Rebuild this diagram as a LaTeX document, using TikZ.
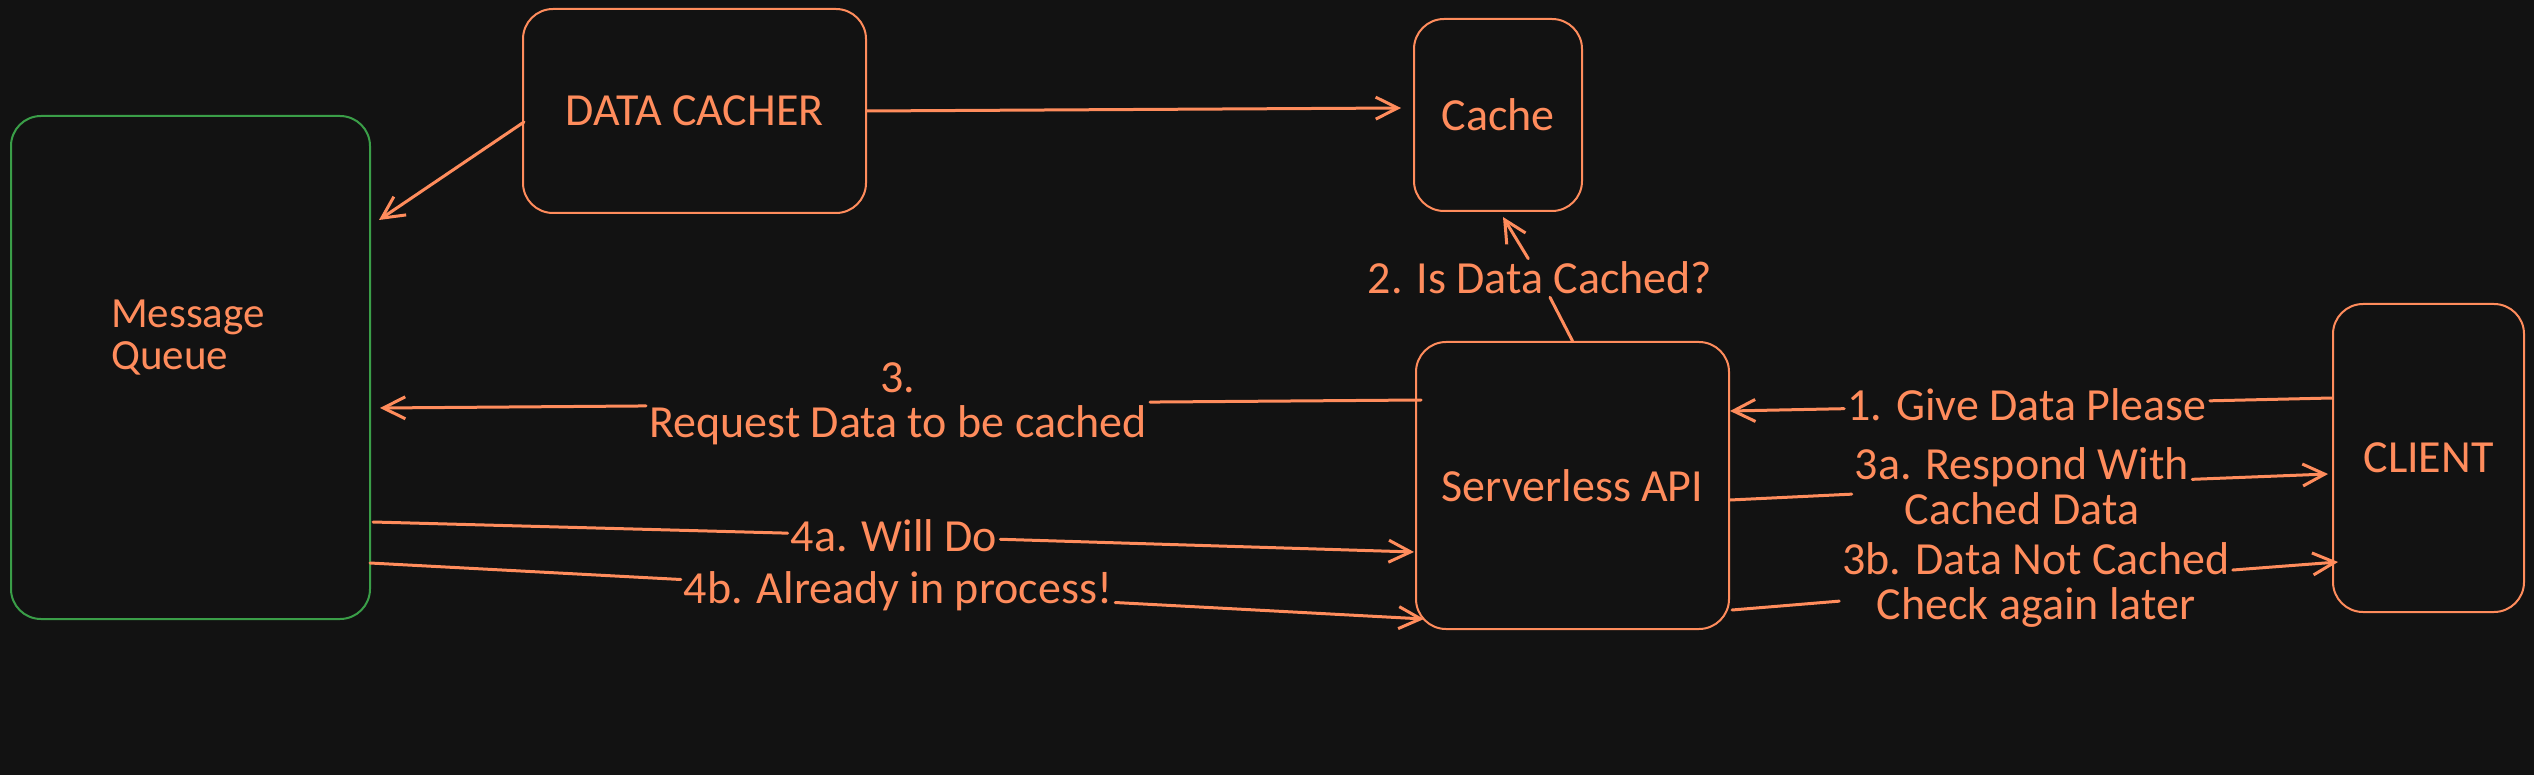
\documentclass[tikz,border=0pt]{standalone}
\usepackage{fontspec}
\setmainfont{Carlito}
\usetikzlibrary{arrows.meta}
\definecolor{bg}{HTML}{121212}
\definecolor{org}{HTML}{FF8C5C}
\definecolor{grn}{HTML}{3A9E48}
\begin{document}
\begin{tikzpicture}[x=1pt,y=-1pt,
  box/.style={draw=org,line width=2pt,rounded corners=30pt,inner sep=0pt,text=org,font=\fontsize{46}{45}\selectfont},
  lbl/.style={text=org,font=\fontsize{46}{45}\selectfont,inner sep=3pt,align=center},
  conn/.style={draw=org,line width=3pt,line cap=round},
  arr/.style={conn,-{Straight Barb[length=22pt,width=22pt,line width=3pt]}}]
\fill[bg] (0,0) rectangle (2534,775);
\useasboundingbox (0,0) rectangle (2534,775);
% boxes
\node[box,draw=grn,minimum width=359pt,minimum height=503pt] (mq) at (190.5,367.5) {};
\node[lbl,align=left,font=\fontsize{43}{42}\selectfont] (mqt) at (188,338) {Message\\Queue};
\node[box,minimum width=343pt,minimum height=204pt] (dc) at (694.5,111) {DATA CACHER};
\node[box,minimum width=168pt,minimum height=192pt] (cache) at (1498,115) {Cache};
\node[box,minimum width=313pt,minimum height=287pt] (api) at (1572.5,485.5) {Serverless API};
\node[box,minimum width=191pt,minimum height=308pt] (client) at (2428.5,458) {CLIENT};
% labels
\node[lbl] (l2) at (1540,278) {2. Is Data Cached?};
\node[lbl] (l3) at (898,404) {3.\\Request Data to be cached};
\node[lbl] (l4a) at (894,536) {4a. Will Do};
\node[lbl] (l4b) at (898,591) {4b. Already in process!};
\node[lbl] (l1) at (2027,405) {1. Give Data Please};
\node[lbl] (l3a) at (2022,486) {3a. Respond With\\Cached Data};
\node[lbl] (l3b) at (2036,585) {3b. Data Not Cached\\Check again later};
% connectors
\draw[arr] ([shift={(2,11)}]dc.west) -- ([shift={(8,-147.5)}]mq.east);
\draw[arr] (dc.east) -- ([shift={(-12,-7)}]cache.west);
\draw[conn] (api.north) -- (l2);
\draw[arr] (l2) -- ([shift={(5,5)}]cache.south);
\draw[conn] ([shift={(6,-85.5)}]api.west) -- (l3);
\draw[arr] (l3) -- ([shift={(9,40.5)}]mq.east);
\draw[conn] ([shift={(2,154.5)}]mq.east) -- (l4a);
\draw[arr] (l4a) -- ([shift={(-1,66.5)}]api.west);
\draw[conn] ([shift={(-1,195.5)}]mq.east) -- (l4b);
\draw[arr] (l4b) -- ([shift={(9,133.5)}]api.west);
\draw[conn] ([shift={(0,-60)}]client.west) -- (l1);
\draw[arr] (l1) -- ([shift={(0,-74.5)}]api.east);
\draw[conn] ([shift={(0,14.5)}]api.east) -- (l3a);
\draw[arr] (l3a) -- ([shift={(-4,16)}]client.west);
\draw[conn] ([shift={(2,124.5)}]api.east) -- (l3b);
\draw[arr] (l3b) -- ([shift={(6,104)}]client.west);
\end{tikzpicture}
\end{document}
